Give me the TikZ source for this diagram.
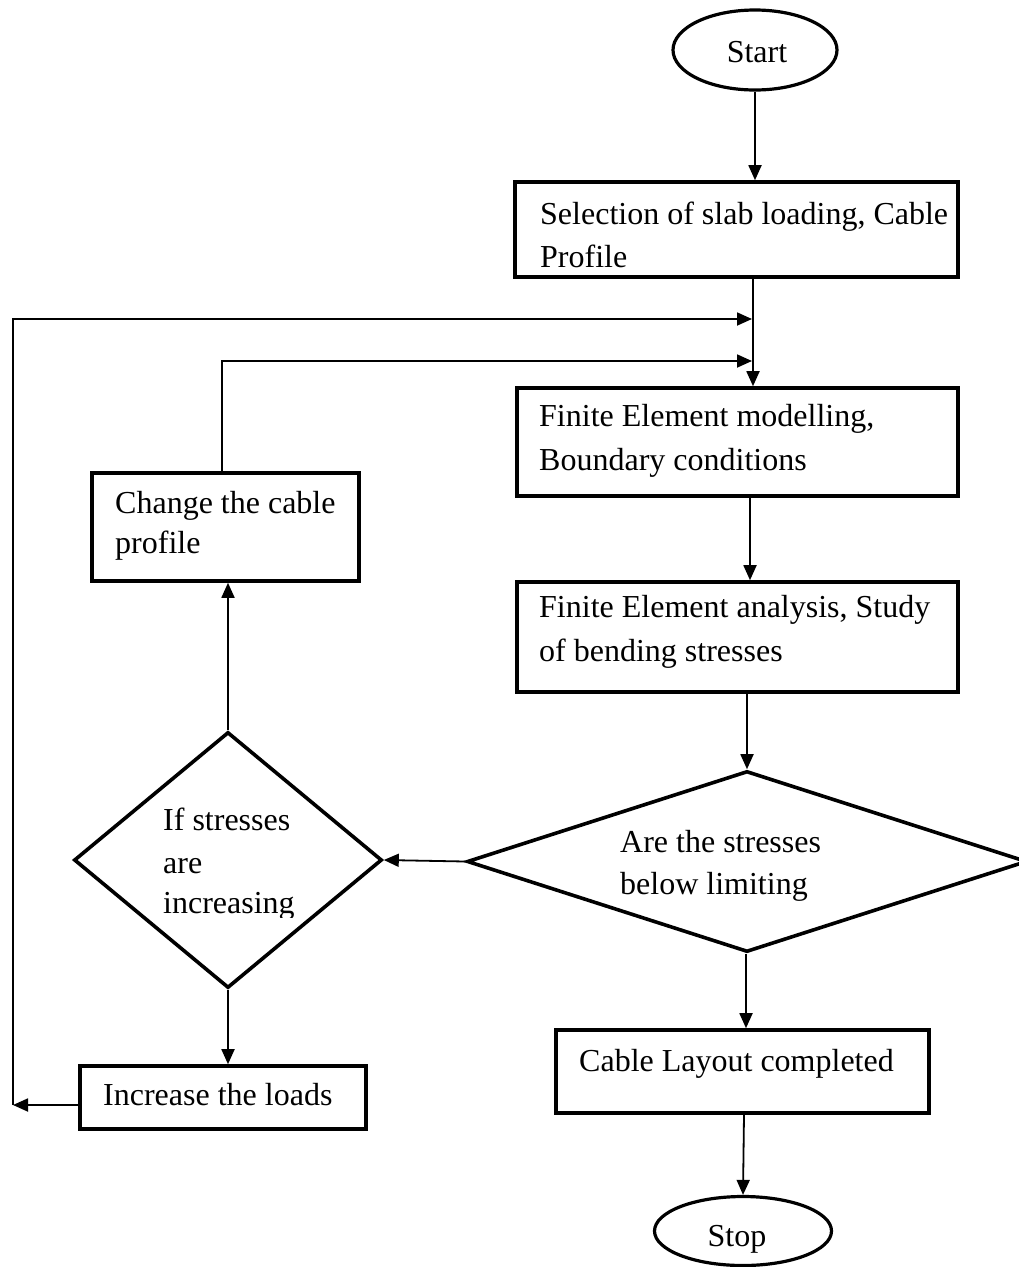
\documentclass[tikz,border=0pt]{standalone}
\usepackage{fontspec}
\setmainfont{Liberation Serif}
\usetikzlibrary{arrows.meta,shapes.geometric}
\begin{document}
\begin{tikzpicture}[x=1pt,y=-1pt,
  box/.style={draw,rectangle,line width=3.6pt,inner sep=0pt},
  oval/.style={draw,ellipse,line width=3.2pt,inner sep=0pt},
  decision/.style={draw,diamond,line width=3.6pt,inner sep=0pt},
  txt/.style={anchor=base west,inner sep=0pt,font=\fontsize{32}{38}\selectfont},
  ctxt/.style={anchor=base,inner sep=0pt,font=\fontsize{32}{38}\selectfont},
  arr/.style={line width=1.8pt,-{Triangle[length=15pt,width=13pt]}},
  ln/.style={line width=1.8pt}]
\useasboundingbox (0,0) rectangle (1019,1267);
% shapes
\node[oval,minimum width=164pt,minimum height=80pt] (start) at (755,50) {};
\node[box,minimum width=443pt,minimum height=95pt] (b1) at (736.5,229.5) {};
\node[box,minimum width=441pt,minimum height=108pt] (b2) at (737.5,442) {};
\node[box,minimum width=441pt,minimum height=110pt] (b3) at (737.5,637) {};
\node[decision,minimum width=560pt,minimum height=181pt] (d2) at (747,861.5) {};
\node[decision,minimum width=308pt,minimum height=256pt] (d1) at (228,860) {};
\node[box,minimum width=267pt,minimum height=108pt] (chg) at (225.5,527) {};
\node[box,minimum width=286pt,minimum height=63pt] (inc) at (223,1097.5) {};
\node[box,minimum width=373pt,minimum height=83pt] (cab) at (742.5,1071.5) {};
\node[oval,minimum width=177pt,minimum height=69pt] (stop) at (743,1231) {};
% texts
\node[ctxt] (tstart) at (757,62) {Start};
\node[txt] (t1a) at (540,224) {Selection of slab loading, Cable};
\node[txt] (t1b) at (540,267) {Profile};
\node[txt] (t2a) at (539,426) {Finite Element modelling,};
\node[txt] (t2b) at (539,470) {Boundary conditions};
\node[txt] (t3a) at (539,617) {Finite Element analysis, Study};
\node[txt] (t3b) at (539,661) {of bending stresses};
\node[txt] (tca) at (115,513) {Change the cable};
\node[txt] (tcb) at (115,553) {profile};
\node[txt] (tda) at (163,830) {If stresses};
\node[txt] (tdb) at (163,873) {are};
\begin{scope}
\clip (150,880) rectangle (380,917);
\node[txt] (tdc) at (163,913) {increasing};
\end{scope}
\node[txt] (tea) at (620,852) {Are the stresses};
\node[txt] (teb) at (620,894) {below limiting};
\node[txt] (tcab) at (579,1071) {Cable Layout completed};
\node[txt] (tinc) at (103,1105) {Increase the loads};
\node[ctxt] (tstop) at (737,1246) {Stop};
% helper coordinates
\coordinate (m1) at (753,0);
\coordinate (m2) at (750,0);
\coordinate (m3) at (746,0);
\coordinate (m4) at (744,0);
\coordinate (L1) at (13,1105);
\coordinate (L1t) at (13,319);
\coordinate (J1) at (752,319);
\coordinate (L2) at (222,361);
\coordinate (J2) at (752,361);
% connectors
\draw[arr] (start.south) -- (start.south |- b1.north);
\draw[arr] (m1 |- b1.south) -- (m1 |- b2.north);
\draw[arr] (m2 |- b2.south) -- (m2 |- b3.north);
\draw[arr] (d2.north |- b3.south) -- (d2.north);
\draw[arr] (d2.west) -- (d1.east);
\draw[arr] (m3 |- d2.south) -- (m3 |- cab.north);
\draw[arr] (m4 |- cab.south) -- (stop.north);
\draw[arr] (d1.north) -- (d1.north |- chg.south);
\draw[arr] (d1.south) -- (d1.south |- inc.north);
\draw[arr] (inc.west |- L1) -- (L1);
\draw[arr] (L1) -- (L1t) -- (J1);
\draw[arr] (L2 |- chg.north) -- (L2) -- (J2);
\end{tikzpicture}
\end{document}
